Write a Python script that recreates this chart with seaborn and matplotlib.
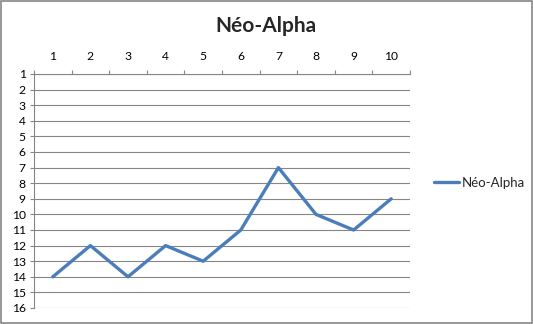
import matplotlib
matplotlib.use("Agg")
import matplotlib.pyplot as plt
import seaborn as sns
import pandas as pd
from matplotlib.patches import Rectangle

sns.set_theme(style="white")
plt.rcParams['font.family'] = ['Lato', 'DejaVu Sans']

title = "Néo-Alpha"
series_name = "Néo-Alpha"
x_values = [1, 2, 3, 4, 5, 6, 7, 8, 9, 10]
y_values = [14, 12, 14, 12, 13, 11, 7, 10, 11, 9]
y_ticks = list(range(1, 17))

df = pd.DataFrame({"x": x_values, "y": y_values, "s": series_name})

fig = plt.figure(figsize=(5.33, 3.24), dpi=100)
ax = fig.add_axes([34/533, 1-308/324, (410-34)/533, (308-74)/324])

sns.lineplot(data=df, x="x", y="y", hue="s", palette=["#4A7EBB"], linewidth=2.4,
             ax=ax, legend=False)

ax.set_xlim(0.5, 10.5)
ax.set_ylim(16, 1)
ax.set_yticks(y_ticks)
ax.set_xticks(x_values)
ax.set_xticks([v + 0.5 for v in range(0, 11)], minor=True)
ax.xaxis.tick_top()
ax.tick_params(axis='x', which='major', length=0, pad=9, labelsize=8.7, colors='black')
ax.tick_params(axis='x', which='minor', length=3, width=0.8, color='#868686', top=True, bottom=False)
ax.tick_params(axis='y', which='major', length=3, width=0.8, color='#868686', left=True, pad=3,
               labelsize=8.7, labelcolor='black')
ax.set_xlabel("")
ax.set_ylabel("")
ax.grid(axis='y', color='#868686', linewidth=0.8)
ax.grid(axis='x', visible=False)
ax.set_axisbelow(True)
for side in ['right', 'bottom']:
    ax.spines[side].set_visible(False)
ax.spines['left'].set_color('#868686')
ax.spines['left'].set_linewidth(0.8)
ax.spines['top'].set_color('#868686')
ax.spines['top'].set_linewidth(0.8)

fig.text(265.5/533, 1-26/324, title, ha='center', va='center', fontsize=15, fontweight='bold')

handle = plt.Line2D([], [], color='#4A7EBB', linewidth=2.4)
fig.legend([handle], [series_name], loc='center left', bbox_to_anchor=(429/533, 1-183/324),
           frameon=False, fontsize=9.5, handlelength=1.9, handletextpad=0.15, borderaxespad=0)

fig.patches.append(Rectangle((0.001, 0.002), 0.997, 0.995, transform=fig.transFigure,
                             fill=False, edgecolor='#868686', linewidth=1.2))

fig.savefig("out.png", dpi=100)
